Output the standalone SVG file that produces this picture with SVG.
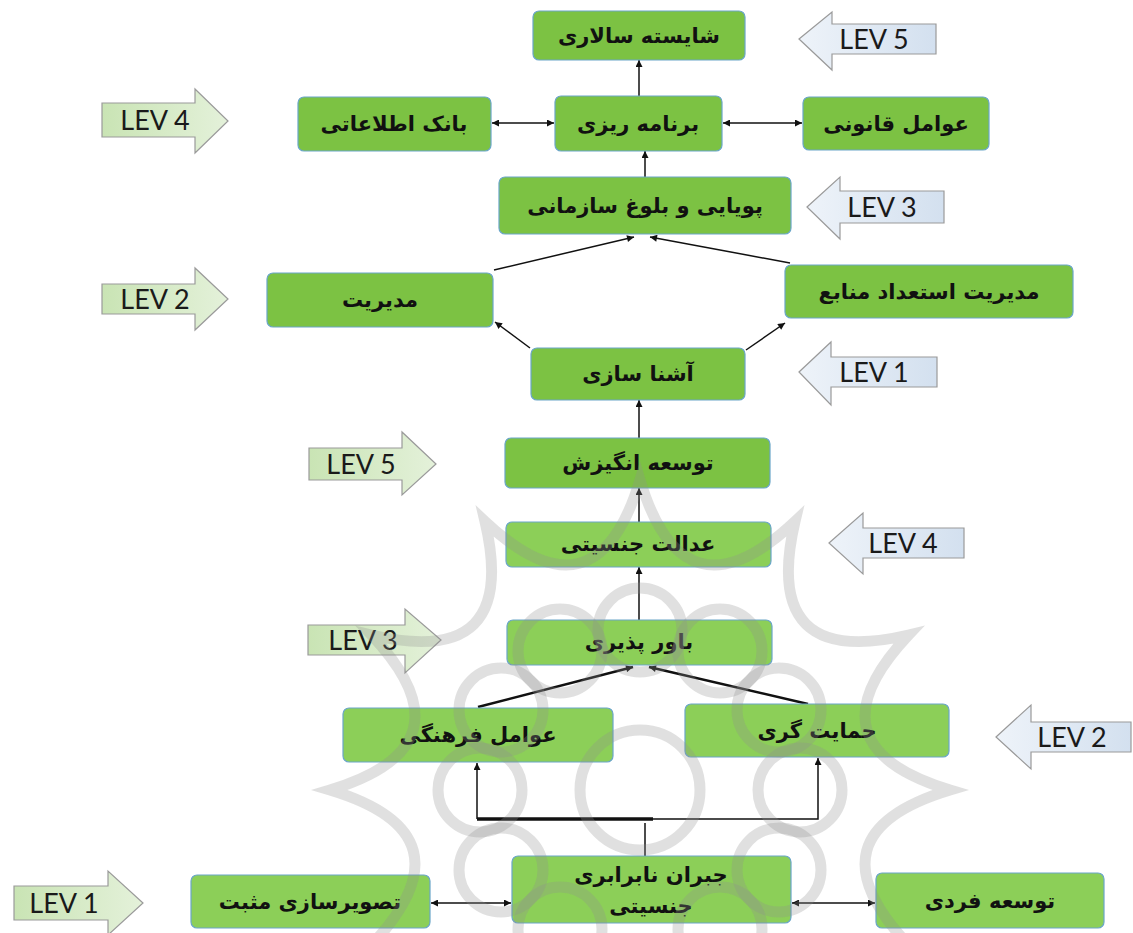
<svg xmlns="http://www.w3.org/2000/svg" width="1133" height="933" viewBox="0 0 1133 933">
<style>
.node rect{stroke:#6aa6c8;stroke-width:1.2}
.top rect{fill:#7cc243}
.low rect{fill:#8ccf58}
.node text{font-family:"DejaVu Sans",sans-serif;font-weight:bold;font-size:21px;fill:#111;text-anchor:middle}
.lev path{stroke:#9a9a9a;stroke-width:1.2}
.lev text{font-family:Lato,"Liberation Sans",sans-serif;font-size:27px;fill:#1a1a1a;text-anchor:middle}
.gr path{fill:url(#gg)}
.bl path{fill:url(#gb)}
.c line,.c path{stroke:#111;stroke-width:1.5;fill:none}
.c .thick{stroke-width:2.5}
.wm{fill:none;stroke:#8f8f8f;stroke-width:11;opacity:0.28}
</style>
<defs>
<linearGradient id="gg" x1="0" y1="0" x2="1" y2="0"><stop offset="0" stop-color="#c9e4b4"/><stop offset="1" stop-color="#e4f1da"/></linearGradient>
<linearGradient id="gb" x1="0" y1="0" x2="1" y2="0"><stop offset="0" stop-color="#eef3f9"/><stop offset="1" stop-color="#d3e0ef"/></linearGradient>
<marker id="ah" viewBox="0 0 10 10" refX="10" refY="5" markerWidth="8" markerHeight="7" markerUnits="userSpaceOnUse" orient="auto-start-reverse"><path d="M0,0 L10,5 L0,10 z" fill="#111"/></marker>
</defs>
<rect width="1133" height="933" fill="#ffffff"/>
<g id="levels">
<g id="lev5-top" class="lev bl"><path d="M799,39 L832,12 L832,24 L936,24 L936,54 L832,54 L832,70 Z"/><text x="874" y="49">LEV 5</text></g>
<g id="lev4-top" class="lev gr"><path d="M102,103 L195,103 L195,89 L228,121 L195,153 L195,137 L102,137 Z"/><text x="155" y="130">LEV 4</text></g>
<g id="lev3-top" class="lev bl"><path d="M807,207 L840,177 L840,191 L944,191 L944,223 L840,223 L840,239 Z"/><text x="882" y="217">LEV 3</text></g>
<g id="lev2-top" class="lev gr"><path d="M102,284 L195,284 L195,268 L228,299 L195,330 L195,314 L102,314 Z"/><text x="155" y="309">LEV 2</text></g>
<g id="lev1-top" class="lev bl"><path d="M799,372 L831,342 L831,357 L937,357 L937,387 L831,387 L831,405 Z"/><text x="874" y="382">LEV 1</text></g>
<g id="lev5-low" class="lev gr"><path d="M309,448 L402,448 L402,432 L436,464 L402,495 L402,480 L309,480 Z"/><text x="361" y="474">LEV 5</text></g>
<g id="lev4-low" class="lev bl"><path d="M829,543 L863,513 L863,528 L964,528 L964,558 L863,558 L863,574 Z"/><text x="903" y="553">LEV 4</text></g>
<g id="lev3-low" class="lev gr"><path d="M308,625 L405,625 L405,609 L441,640 L405,673 L405,655 L308,655 Z"/><text x="363" y="650">LEV 3</text></g>
<g id="lev2-low" class="lev bl"><path d="M996,737 L1031,705 L1031,722 L1131,722 L1131,752 L1031,752 L1031,769 Z"/><text x="1072" y="747">LEV 2</text></g>
<g id="lev1-low" class="lev gr"><path d="M14,886 L108,886 L108,871 L143,903 L108,935 L108,920 L14,920 Z"/><text x="64" y="913">LEV 1</text></g>
</g>
<g id="connectors" class="c">
<line x1="639" y1="96" x2="639" y2="60" marker-end="url(#ah)"/>
<line x1="492" y1="123" x2="554" y2="123" marker-start="url(#ah)" marker-end="url(#ah)"/>
<line x1="723" y1="123" x2="802" y2="123" marker-start="url(#ah)" marker-end="url(#ah)"/>
<line x1="645" y1="177" x2="645" y2="151" marker-end="url(#ah)"/>
<line x1="494" y1="270" x2="634" y2="237" marker-end="url(#ah)"/>
<line x1="790" y1="263" x2="650" y2="237" marker-end="url(#ah)"/>
<line x1="530" y1="348" x2="495" y2="322" marker-end="url(#ah)"/>
<line x1="746" y1="350" x2="785" y2="323" marker-end="url(#ah)"/>
<line x1="639" y1="438" x2="639" y2="400" marker-end="url(#ah)"/>
<line x1="639" y1="522" x2="639" y2="488" marker-end="url(#ah)"/>
<line x1="639" y1="620" x2="639" y2="567" marker-end="url(#ah)"/>
<line class="thick" x1="478" y1="707" x2="633" y2="667" marker-end="url(#ah)"/>
<line class="thick" x1="808" y1="704" x2="649" y2="667" marker-end="url(#ah)"/>
<path d="M477,819 L477,763" marker-end="url(#ah)"/>
<path d="M477,819 L818,819 L818,758" marker-end="url(#ah)"/>
<line x1="477" y1="819" x2="653" y2="819" style="stroke-width:3.5"/>
<line x1="645" y1="823" x2="645" y2="856"/>
<line x1="431" y1="903" x2="511" y2="903" marker-start="url(#ah)" marker-end="url(#ah)"/>
<line x1="792" y1="903" x2="875" y2="903" marker-start="url(#ah)" marker-end="url(#ah)"/>
</g>
<g id="n1" class="node top"><rect x="533" y="11" width="212" height="49" rx="6"/><text x="639" y="43">شایسته سالاری</text></g>
<g id="n2" class="node top"><rect x="555" y="96" width="167" height="55" rx="6"/><text x="638" y="131">برنامه ریزی</text></g>
<g id="n3" class="node top"><rect x="298" y="97" width="193" height="54" rx="6"/><text x="394" y="131">بانک اطلاعاتی</text></g>
<g id="n4" class="node top"><rect x="803" y="97" width="186" height="53" rx="6"/><text x="896" y="131">عوامل قانونی</text></g>
<g id="n5" class="node top"><rect x="499" y="177" width="292" height="57" rx="6"/><text x="645" y="213">پویایی و بلوغ سازمانی</text></g>
<g id="n6" class="node top"><rect x="267" y="273" width="226" height="54" rx="6"/><text x="380" y="307">مدیریت</text></g>
<g id="n7" class="node top"><rect x="785" y="265" width="288" height="53" rx="6"/><text x="929" y="299">مدیریت استعداد منابع</text></g>
<g id="n8" class="node top"><rect x="531" y="348" width="214" height="52" rx="6"/><text x="638" y="381">آشنا سازی</text></g>
<g id="n9" class="node top"><rect x="505" y="438" width="265" height="50" rx="6"/><text x="638" y="470">توسعه انگیزش</text></g>
<g id="n10" class="node low"><rect x="506" y="522" width="265" height="45" rx="6"/><text x="638" y="551">عدالت جنسیتی</text></g>
<g id="n11" class="node low"><rect x="507" y="620" width="265" height="45" rx="6"/><text x="639" y="649">باور پذیری</text></g>
<g id="n12" class="node low"><rect x="343" y="708" width="270" height="54" rx="6"/><text x="478" y="742">عوامل فرهنگی</text></g>
<g id="n13" class="node low"><rect x="685" y="704" width="264" height="53" rx="6"/><text x="817" y="738">حمایت گری</text></g>
<g id="n14" class="node low"><rect x="512" y="856" width="279" height="67" rx="6"/><text x="651" y="882">جبران نابرابری</text><text x="651" y="913">جنسیتی</text></g>
<g id="n15" class="node low"><rect x="191" y="875" width="239" height="53" rx="6"/><text x="310" y="909">تصویرسازی مثبت</text></g>
<g id="n16" class="node low"><rect x="876" y="873" width="228" height="55" rx="6"/><text x="990" y="908">توسعه فردی</text></g>
<g id="watermark">
<path class="wm" d="M640,480 Q684,625.8 795,521.5 Q760.2,669.8 908.5,635 Q804.2,746 950,790 Q804.2,834 908.5,945 Q760.2,910.2 795,1058.5 Q684,954.2 640,1100 Q596,954.2 485,1058.5 Q519.8,910.2 371.5,945 Q475.8,834 330,790 Q475.8,746 371.5,635 Q519.8,669.8 485,521.5 Q596,625.8 640,480 Z"/>
<circle class="wm" cx="640" cy="790" r="60"/>
<circle class="wm" cx="640" cy="630" r="42"/>
<circle class="wm" cx="720" cy="651" r="42"/>
<circle class="wm" cx="779" cy="710" r="42"/>
<circle class="wm" cx="800" cy="790" r="42"/>
<circle class="wm" cx="779" cy="870" r="42"/>
<circle class="wm" cx="720" cy="929" r="42"/>
<circle class="wm" cx="560" cy="929" r="42"/>
<circle class="wm" cx="501" cy="870" r="42"/>
<circle class="wm" cx="480" cy="790" r="42"/>
<circle class="wm" cx="501" cy="710" r="42"/>
<circle class="wm" cx="560" cy="651" r="42"/>
</g>
</svg>
